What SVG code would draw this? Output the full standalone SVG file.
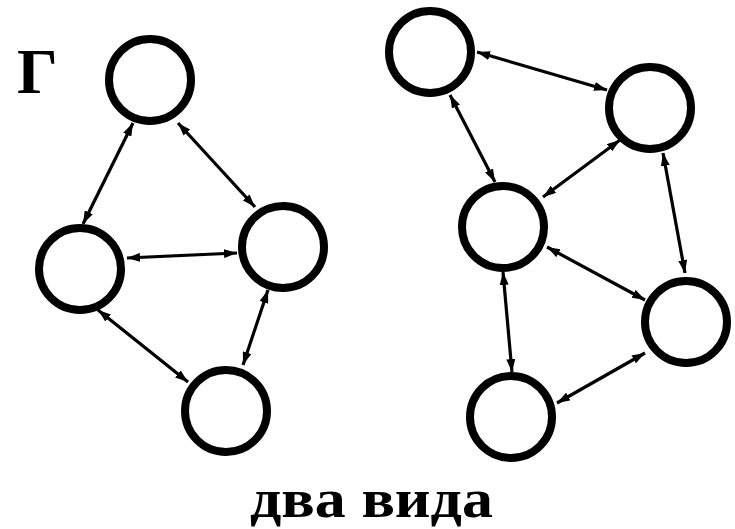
<svg xmlns="http://www.w3.org/2000/svg" width="735" height="529" viewBox="0 0 735 529">
<style>
.node{fill:#fff;stroke:#000;stroke-width:8}
.edge{stroke:#000;stroke-width:3.2;fill:none;marker-start:url(#ah);marker-end:url(#ah)}
.lbl{font-family:"Liberation Serif","DejaVu Serif",serif;font-weight:bold;fill:#000}
</style>
<defs>
<marker id="ah" markerUnits="userSpaceOnUse" markerWidth="13" markerHeight="9" refX="13" refY="4.5" orient="auto-start-reverse">
<path d="M0,0 L13,4.5 L0,9 z" fill="#000"/>
</marker>
</defs>
<rect width="735" height="529" fill="#fff"/>
<g id="connectors">
<line class="edge" x1="133" y1="123" x2="83" y2="224"/>
<line class="edge" x1="178" y1="123" x2="255" y2="207"/>
<line class="edge" x1="127" y1="258" x2="237" y2="253"/>
<line class="edge" x1="98" y1="310" x2="188" y2="382"/>
<line class="edge" x1="268" y1="290" x2="243" y2="365"/>
<line class="edge" x1="477" y1="52" x2="607" y2="90"/>
<line class="edge" x1="450" y1="95" x2="495" y2="182"/>
<line class="edge" x1="620" y1="140" x2="543" y2="197"/>
<line class="edge" x1="663" y1="153" x2="685" y2="273"/>
<line class="edge" x1="547" y1="247" x2="645" y2="300"/>
<line class="edge" x1="503" y1="272" x2="512" y2="372"/>
<line class="edge" x1="557" y1="403" x2="645" y2="353"/>
</g>
<g id="n1"><circle class="node" cx="150" cy="80" r="41"/></g>
<g id="n2"><circle class="node" cx="80" cy="269" r="41"/></g>
<g id="n3"><circle class="node" cx="283" cy="247" r="41"/></g>
<g id="n4"><circle class="node" cx="226" cy="411" r="41"/></g>
<g id="n5"><circle class="node" cx="430" cy="52" r="41"/></g>
<g id="n6"><circle class="node" cx="650" cy="108" r="41"/></g>
<g id="n7"><circle class="node" cx="503" cy="227" r="41"/></g>
<g id="n8"><circle class="node" cx="686" cy="322" r="41"/></g>
<g id="n9"><circle class="node" cx="511" cy="417" r="41"/></g>
<text class="lbl" x="17" y="93" font-size="64">Г</text>
<text class="lbl" x="250" y="517" font-size="54" textLength="243" lengthAdjust="spacingAndGlyphs">два вида</text>
</svg>
